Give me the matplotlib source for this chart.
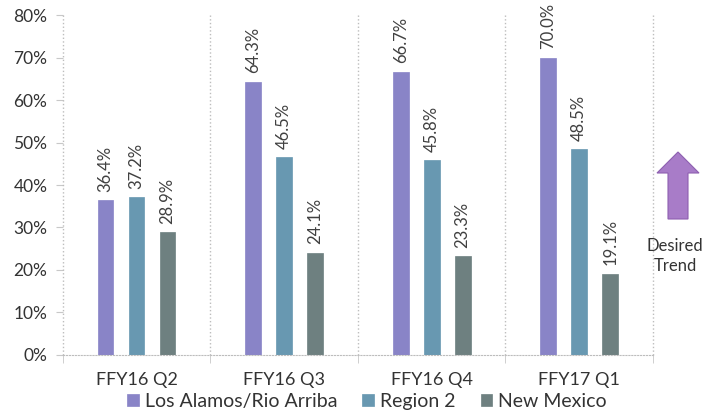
import matplotlib
matplotlib.use("Agg")
import matplotlib.pyplot as plt
import numpy as np
from matplotlib.patches import FancyArrow

plt.rcParams['font.family'] = ['Lato', 'DejaVu Sans']

quarters = ['FFY16 Q2', 'FFY16 Q3', 'FFY16 Q4', 'FFY17 Q1']
series = ['Los Alamos/Rio Arriba', 'Region 2', 'New Mexico']
los_alamos = [36.4, 64.3, 66.7, 70.0]
region2 = [37.2, 46.5, 45.8, 48.5]
new_mexico = [28.9, 24.1, 23.3, 19.1]
colors = ['#8984C7', '#6898B1', '#6E8080']

fig = plt.figure(figsize=(7.07, 4.17), dpi=100)
ax = fig.add_axes([0.0887, 0.1487, 0.8349, 0.8153])

x = np.arange(len(quarters))
width = 0.108
step = 0.21
values = [los_alamos, region2, new_mexico]
for i, (vals, name, c) in enumerate(zip(values, series, colors)):
    pos = x + (i - 1) * step
    ax.bar(pos, vals, width, color=c, label=name, edgecolor=c, linewidth=0.5)
    for xp, v in zip(pos, vals):
        ax.annotate('%.1f%%' % v, (xp, v), xytext=(0, 6), textcoords='offset points',
                    rotation=90, ha='center', va='bottom', fontsize=12,
                    color='#404040', annotation_clip=False)

ax.set_xlim(-0.5, 3.5)
ax.set_ylim(0, 80)
ax.set_yticks(range(0, 81, 10))
ax.set_yticklabels(['%d%%' % v for v in range(0, 81, 10)], fontsize=12.5, color='#333333')
ax.set_xticks(x)
ax.set_xticklabels(quarters, fontsize=13, color='#333333')
ax.set_xticks(np.arange(-0.5, 4, 1), minor=True)
ax.tick_params(axis='x', which='major', length=0, pad=12)
ax.tick_params(axis='x', which='minor', length=6, color='#C8C8C8', direction='out')
ax.tick_params(axis='y', length=5, color='#C8C8C8', pad=6)

for s in ['top', 'right', 'left']:
    ax.spines[s].set_visible(False)
ax.spines['bottom'].set_linestyle(':')
ax.spines['bottom'].set_color('#BDBDBD')
for sep in np.arange(-0.5, 4, 1):
    ax.axvline(sep, color='#BDBDBD', linestyle=':', linewidth=1, clip_on=False)

fig.legend(loc='lower center', bbox_to_anchor=(0.519, -0.025), ncol=3, frameon=False,
           fontsize=14, handlelength=0.6, handleheight=0.6, handletextpad=0.3,
           columnspacing=1.3, labelcolor='#333333')

# desired trend arrow
arrow = FancyArrow(6.78, 1.98, 0, 0.67, width=0.20, head_width=0.42, head_length=0.21,
                   length_includes_head=True, transform=fig.dpi_scale_trans,
                   facecolor='#A87CC8', edgecolor='#8E5FB0', linewidth=0.8)
fig.patches.append(arrow)
fig.text(0.955, 0.386, 'Desired\nTrend', ha='center', va='center', fontsize=12,
         color='#333333', linespacing=1.3)

fig.savefig('out.png', dpi=100)
